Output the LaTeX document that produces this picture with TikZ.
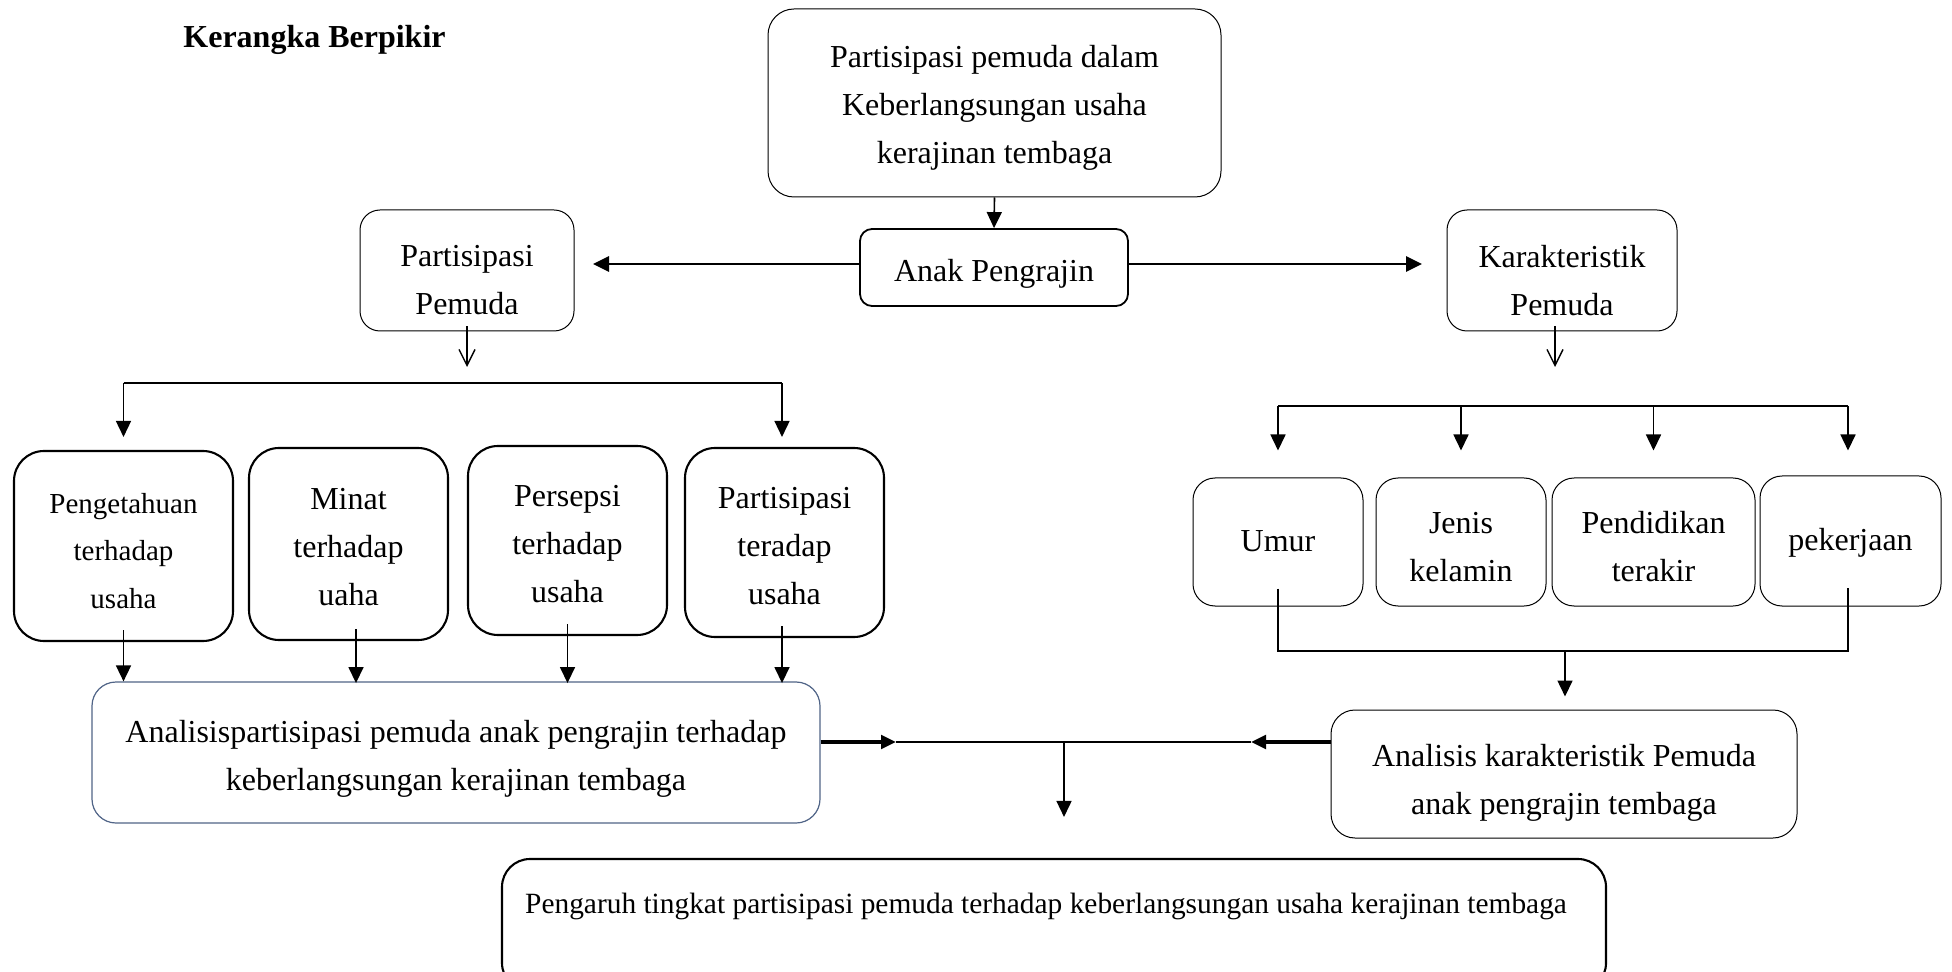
\documentclass[tikz,border=0pt]{standalone}
\usepackage{fontspec}
\setmainfont{Liberation Serif}
\usetikzlibrary{arrows.meta,calc}
\definecolor{bgrey}{RGB}{80,100,135}
\begin{document}
\begin{tikzpicture}[x=0.5pt,y=-0.5pt,
  base/.style={draw, inner sep=0pt},
  thinbox/.style={base, line width=0.5pt, rounded corners=#1},
  thinbox/.default=11pt,
  thickbox/.style={base, line width=1.05pt, rounded corners=#1},
  thickbox/.default=15pt,
  txt/.style={inner sep=0pt, align=center, font=\fontsize{16}{24}\selectfont},
  ln/.style={line width=0.8pt},
  arr/.style={line width=0.8pt, -{Triangle[length=8pt,width=7.5pt]}},
  harr/.style={line width=1.4pt, -{Triangle[length=8pt,width=7.5pt]}},
  oarr/.style={line width=0.7pt, -{Straight Barb[length=8pt,width=8pt]}},
  tarr/.style={line width=2.1pt, -{Triangle[length=7.5pt,width=6.7pt]}}]
\clip (0,0) rectangle (1952,972);
\fill[white] (0,0) rectangle (1952,972);

% title
\node[anchor=west, inner sep=0pt, font=\bfseries\fontsize{16}{24}\selectfont] (title) at (183,40) {Kerangka Berpikir};

% top part
\node[thinbox=13pt, minimum width=226.5pt, minimum height=94pt] (top) at (994.5,103) {};
\node[txt] (topt) at ($(top)+(0,5)$) {Partisipasi pemuda dalam\\Keberlangsungan usaha\\kerajinan tembaga};
\node[base, line width=0.9pt, rounded corners=6pt, minimum width=134pt, minimum height=38.5pt] (anak) at (994,267.5) {};
\node[txt] (anakt) at ($(anak)+(0,6)$) {Anak Pengrajin};
\node[thinbox=10pt, minimum width=107pt, minimum height=60.5pt] (pp) at (467,270.5) {};
\node[txt] (ppt) at ($(pp)+(0,10)$) {Partisipasi\\Pemuda};
\node[thinbox=10pt, minimum width=115pt, minimum height=60.5pt] (kp) at (1562,270.5) {};
\node[txt] (kpt) at ($(kp)+(0,10)$) {Karakteristik\\Pemuda};

% left boxes
\node[thickbox, minimum width=109.5pt, minimum height=95pt] (b1) at (123.5,546) {};
\node[txt, font=\fontsize{14.5}{23.75}\selectfont] (b1t) at ($(b1)+(0,5)$) {Pengetahuan\\terhadap\\usaha};
\node[thickbox, minimum width=99.5pt, minimum height=96pt] (b2) at (348.5,544) {};
\node[txt] (b2t) at ($(b2)+(0,3)$) {Minat\\terhadap\\uaha};
\node[thickbox, minimum width=99.5pt, minimum height=94.5pt] (b3) at (567.5,540.5) {};
\node[txt] (b3t) at ($(b3)+(0,4)$) {Persepsi\\terhadap\\usaha};
\node[thickbox, minimum width=99.5pt, minimum height=94.5pt] (b4) at (784.5,542.5) {};
\node[txt] (b4t) at ($(b4)+(0,4)$) {Partisipasi\\teradap\\usaha};

\node[base, draw=bgrey, line width=0.6pt, rounded corners=12pt, minimum width=364pt, minimum height=70.5pt] (la) at (456,752.5) {};
\node[txt] (lat) at ($(la)+(0,6)$) {Analisispartisipasi pemuda anak pengrajin terhadap\\keberlangsungan kerajinan tembaga};

% right boxes
\node[thinbox, minimum width=85pt, minimum height=64pt] (r1) at (1278,542) {};
\node[txt] (r1t) at ($(r1)+(0,-1)$) {Umur};
\node[thinbox, minimum width=85pt, minimum height=64pt] (r2) at (1461,542) {};
\node[txt] (r2t) at ($(r2)+(0,5)$) {Jenis\\kelamin};
\node[thinbox, minimum width=101.5pt, minimum height=64pt] (r3) at (1653.5,542) {};
\node[txt] (r3t) at ($(r3)+(0,5)$) {Pendidikan\\terakir};
\node[thinbox, minimum width=90.5pt, minimum height=65pt] (r4) at (1850.5,541) {};
\node[txt] (r4t) at ($(r4)+(0,2)$) {pekerjaan};

\node[thinbox=12pt, minimum width=233pt, minimum height=64pt] (rk) at (1564,774) {};
\node[txt] (rkt) at ($(rk)+(0,9)$) {Analisis karakteristik Pemuda\\anak pengrajin tembaga};

% bottom box
\node[base, line width=1.05pt, rounded corners=14pt, minimum width=552pt, minimum height=66pt] (pb) at (1054,925) {};
\node[inner sep=0pt, font=\fontsize{14.7}{20}\selectfont] (pbt) at (1046,906) {Pengaruh tingkat partisipasi pemuda terhadap keberlangsungan usaha kerajinan tembaga};

% coordinates
\coordinate (ppin) at (593,264);
\coordinate (kpin) at (1422,264);
\coordinate (ppd) at (467,367);
\coordinate (kps) at (1555,326);
\coordinate (kpd) at (1555,367);
\coordinate (bl) at (123.5,383);
\coordinate (br) at (782,383);
\coordinate (rl) at (1278,406);
\coordinate (rr) at (1848,406);
\coordinate (rj) at (1565,651);
\coordinate (r4s) at (1848,588);
\coordinate (mL) at (896,742);
\coordinate (mR) at (1251,742);
\coordinate (mD) at (1064,742);

% connectors top
\draw[arr] (top.south) -- (anak.north);
\draw[harr] (anak.west |- ppin) -- (ppin);
\draw[harr] (anak.east |- kpin) -- (kpin);
\draw[oarr] ($(pp.south)+(0,-5)$) -- (ppd);
\draw[oarr] (kps) -- (kpd);

% left bracket
\draw[ln] (bl) -- (br);
\draw[arr] (bl) -- ($(b1.north)+(0,-13)$);
\draw[arr] (br) -- ($(b4.north -| br)+(0,-10)$);

% left down arrows
\draw[arr] ($(b1.south)+(0,-12)$) -- (b1.south |- la.north);
\draw[arr] ($(b2.south)+(7.5,-12)$) -- ($(b2.south)+(7.5,42)$);
\draw[arr] ($(b3.south)+(0,-12)$) -- ($(b3.south)+(0,47)$);
\draw[arr] ($(b4.south)+(-2.5,-12)$) -- ($(b4.south)+(-2.5,45)$);

% right bracket
\draw[ln] (rl) -- (rr);
\draw[arr] (rl) -- ($(r1.north)+(0,-27)$);
\draw[arr] (r2.north |- rl) -- ($(r2.north)+(0,-27)$);
\draw[arr] (r3.north |- rl) -- ($(r3.north)+(0,-27)$);
\draw[arr] (rr) -- ($(r4.north -| rr)+(0,-25)$);

% right join
\draw[ln] ($(r1.south)+(0,-18)$) |- (rj) -| (r4s);
\draw[arr] (rj) -- ($(rk.north)+(1,-13)$);

% middle
\draw[tarr] (la.east |- mL) -- (mL);
\draw[ln] (mL) -- (mR);
\draw[tarr] (rk.west |- mR) -- (mR);
\draw[arr] (mD) -- ($(pb.north -| mD)+(0,-41)$);
\end{tikzpicture}
\end{document}
